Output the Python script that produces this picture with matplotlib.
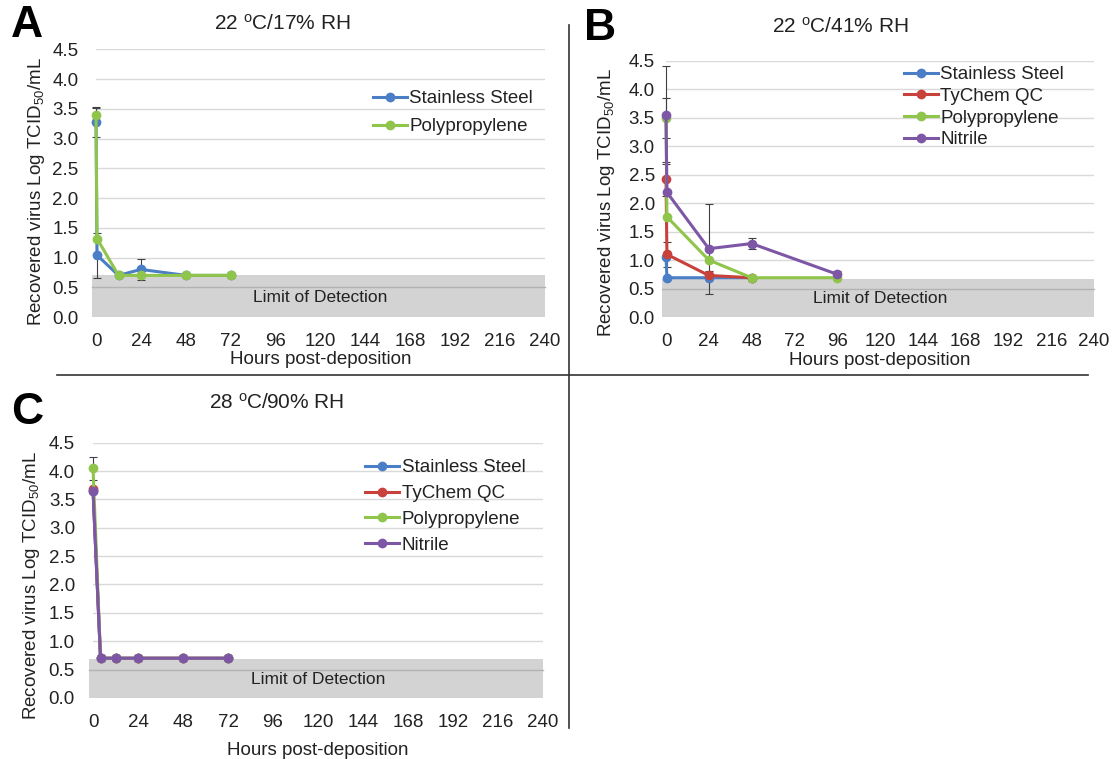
import matplotlib
matplotlib.use("Agg")
import matplotlib.pyplot as plt
from matplotlib.lines import Line2D
from matplotlib.ticker import FormatStrFormatter

plt.rcParams['font.family'] = ['Liberation Sans', 'DejaVu Sans']
plt.rcParams['mathtext.fontset'] = 'custom'
plt.rcParams['mathtext.rm'] = 'Liberation Sans'
plt.rcParams['mathtext.it'] = 'Liberation Sans:italic'
plt.rcParams['mathtext.bf'] = 'Liberation Sans:bold'

BLUE = '#4a7ec6'
RED = '#c9413b'
GREEN = '#8fc54a'
PURPLE = '#7d57a6'
TXT = '#222222'

x_ticks = list(range(0, 241, 24))
y_ticks = [0.0, 0.5, 1.0, 1.5, 2.0, 2.5, 3.0, 3.5, 4.0, 4.5]

# panel A : 22 C / 17 % RH
a_ss_hours = [0, 0.5, 12, 24, 48, 72]
a_ss_log = [3.28, 1.04, 0.70, 0.80, 0.70, 0.70]
a_ss_err = [0.25, 0.38, 0, 0.17, 0, 0]
a_pp_hours = [0, 0.5, 12, 24, 48, 72]
a_pp_log = [3.39, 1.32, 0.70, 0.70, 0.70, 0.70]
a_pp_err = [0.12, 0, 0, 0, 0, 0]

# panel B : 22 C / 41 % RH
b_ss_hours = [0, 0.5, 24, 48]
b_ss_log = [1.06, 0.69, 0.69, 0.69]
b_ss_err = [0, 0, 0, 0]
b_ty_hours = [0, 0.5, 24, 48]
b_ty_log = [2.42, 1.10, 0.73, 0.69]
b_ty_err = [0.3, 0.22, 0.07, 0]
b_pp_hours = [0, 0.5, 24, 48, 96]
b_pp_log = [3.50, 1.76, 1.00, 0.69, 0.69]
b_pp_err = [0.35, 0, 0, 0, 0]
b_ni_hours = [0, 0.5, 24, 48, 96]
b_ni_log = [3.54, 2.19, 1.20, 1.29, 0.75]
b_ni_err = [0.86, 0, 0.79, 0.10, 0.06]

# panel C : 28 C / 90 % RH
c_ss_hours = [0, 4, 12, 24, 48, 72]
c_ss_log = [3.65, 0.70, 0.70, 0.70, 0.70, 0.70]
c_ss_err = [0, 0, 0, 0, 0, 0]
c_ty_hours = [0, 4, 12, 24, 48, 72]
c_ty_log = [3.69, 0.70, 0.70, 0.70, 0.70, 0.70]
c_ty_err = [0, 0, 0, 0, 0, 0]
c_pp_hours = [0, 4, 12, 24, 48, 72]
c_pp_log = [4.05, 0.70, 0.70, 0.70, 0.70, 0.70]
c_pp_err = [0.2, 0, 0, 0, 0, 0]
c_ni_hours = [0, 4, 12, 24, 48, 72]
c_ni_log = [3.65, 0.70, 0.70, 0.70, 0.70, 0.70]
c_ni_err = [0, 0, 0, 0, 0, 0]


def draw_series(ax, hours, vals, errs, colour, name):
    xe = [h for h, e in zip(hours, errs) if e > 0]
    ye = [v for v, e in zip(vals, errs) if e > 0]
    ee = [e for e in errs if e > 0]
    if xe:
        ax.errorbar(xe, ye, yerr=ee, fmt='none', ecolor='#404040',
                    elinewidth=0.8, capsize=3, capthick=0.8, zorder=3,
                    clip_on=False)
    ax.plot(hours, vals, color=colour, lw=2.2, marker='o', ms=6,
            label=name, zorder=4, clip_on=False)


def setup_panel(ax, lod_top, ypad):
    ax.set_xlim(0, 240)
    ax.set_ylim(0, 4.5)
    ax.set_xticks(x_ticks)
    ax.set_yticks(y_ticks)
    ax.yaxis.set_major_formatter(FormatStrFormatter('%.1f'))
    for s in ax.spines.values():
        s.set_visible(False)
    ax.tick_params(axis='both', length=0, labelsize=13.5, colors=TXT)
    ax.tick_params(axis='y', pad=ypad)
    ax.tick_params(axis='x', pad=11.5)
    for y in y_ticks[1:]:
        ax.plot([0, 240], [y, y], color='#d9d9d9', lw=1, zorder=0)
    ax.fill_between([-2, 240], 0, lod_top, color='#d3d3d3', lw=0,
                    zorder=1, clip_on=False)
    ax.plot([-2, 240], [0.5, 0.5], color='#b3b3b3', lw=1, zorder=1.5,
            clip_on=False)
    ax.text(120, 0.33, 'Limit of Detection', ha='center', va='center',
            fontsize=12.5, color=TXT, zorder=2)


fig = plt.figure(figsize=(11.13, 7.59), dpi=100)

axA = fig.add_axes([0.0863, 0.5823, 0.4034, 0.3527])
axB = fig.add_axes([0.5984, 0.5823, 0.3846, 0.3377])
axC = fig.add_axes([0.0836, 0.0804, 0.4043, 0.3364])

setup_panel(axA, 0.70, 12.5)
setup_panel(axB, 0.66, 8)
setup_panel(axC, 0.69, 13)

draw_series(axA, a_ss_hours, a_ss_log, a_ss_err, BLUE, 'Stainless Steel')
draw_series(axA, a_pp_hours, a_pp_log, a_pp_err, GREEN, 'Polypropylene')

draw_series(axB, b_ss_hours, b_ss_log, b_ss_err, BLUE, 'Stainless Steel')
draw_series(axB, b_ty_hours, b_ty_log, b_ty_err, RED, 'TyChem QC')
draw_series(axB, b_pp_hours, b_pp_log, b_pp_err, GREEN, 'Polypropylene')
draw_series(axB, b_ni_hours, b_ni_log, b_ni_err, PURPLE, 'Nitrile')

draw_series(axC, c_ss_hours, c_ss_log, c_ss_err, BLUE, 'Stainless Steel')
draw_series(axC, c_ty_hours, c_ty_log, c_ty_err, RED, 'TyChem QC')
draw_series(axC, c_pp_hours, c_pp_log, c_pp_err, GREEN, 'Polypropylene')
draw_series(axC, c_ni_hours, c_ni_log, c_ni_err, PURPLE, 'Nitrile')

ylab = 'Recovered virus Log TCID$_{50}$/mL'
panels = [
    (axA, '22 $^{\\mathrm{o}}$C/17% RH', (0.416, 1.096), (-0.132, 0.47), -0.160,
     (0.335, 0.881), 0.56),
    (axB, '22 $^{\\mathrm{o}}$C/41% RH', (0.408, 1.133), (-0.140, 0.445), -0.170,
     (0.812, 0.913), 0.245),
    (axC, '28 $^{\\mathrm{o}}$C/90% RH', (0.408, 1.157), (-0.136, 0.44), -0.205,
     (0.328, 0.395), 0.46),
]
for ax, title, tpos, ypos, xly, legpos, lsp in panels:
    ax.text(tpos[0], tpos[1], title, transform=ax.transAxes, ha='center',
            va='center', fontsize=15, color=TXT)
    ax.text(ypos[0], ypos[1], ylab, transform=ax.transAxes, rotation=90,
            ha='center', va='center', fontsize=13.5, color=TXT)
    ax.text(0.5, xly, 'Hours post-deposition', transform=ax.transAxes,
            ha='center', va='center', fontsize=13.5, color=TXT)
    ax.legend(loc='upper left', bbox_to_anchor=legpos,
              bbox_transform=fig.transFigure, frameon=False, fontsize=13.5,
              handlelength=1.8, handletextpad=0.15, borderpad=0,
              borderaxespad=0, labelspacing=lsp, labelcolor=TXT)

# panel letters
fig.text(0.0245, 0.966, 'A', fontsize=32, fontweight='bold', ha='center', va='center')
fig.text(0.539, 0.962, 'B', fontsize=32, fontweight='bold', ha='center', va='center')
fig.text(0.0243, 0.457, 'C', fontsize=32, fontweight='bold', ha='center', va='center')

# divider lines between the panels
fig.add_artist(Line2D([0.0512, 0.9775], [0.5059, 0.5059], color='#333333', lw=1.2))
fig.add_artist(Line2D([0.5112, 0.5112], [0.967, 0.0408], color='#333333', lw=1.2))

fig.savefig('out.png', dpi=100)
